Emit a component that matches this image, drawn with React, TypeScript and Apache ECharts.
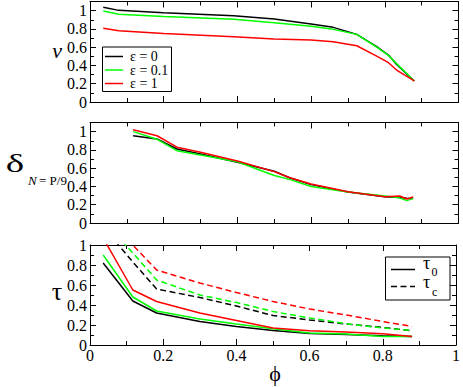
import React, { useEffect, useRef } from 'react';
import * as echarts from 'echarts';

// Panel 1: nu vs phi
const phiV = [0.036, 0.078, 0.2, 0.39, 0.5, 0.6, 0.66, 0.724, 0.778, 0.81, 0.832, 0.88];
const vEps0 = [1.036, 1.003, 0.977, 0.944, 0.908, 0.853, 0.817, 0.74, 0.605, 0.514, 0.41, 0.23];
const vEps01 = [0.995, 0.96, 0.937, 0.905, 0.868, 0.83, 0.795, 0.74, 0.6, 0.51, 0.42, 0.23];
const vEps1 = [0.806, 0.78, 0.75, 0.714, 0.69, 0.678, 0.66, 0.616, 0.503, 0.43, 0.35, 0.23];

// Panel 2: delta_{N=P/9} vs phi
const phiD = [0.117, 0.182, 0.236, 0.3, 0.4, 0.5, 0.543, 0.6, 0.7, 0.8, 0.84, 0.86, 0.877];
const dEps0 = [0.955, 0.92, 0.81, 0.755, 0.664, 0.566, 0.493, 0.42, 0.34, 0.288, 0.28, 0.272, 0.267];
const dEps01 = [1.0, 0.916, 0.792, 0.745, 0.67, 0.52, 0.475, 0.4, 0.34, 0.295, 0.275, 0.245, 0.27];
const dEps1 = [1.02, 0.955, 0.83, 0.775, 0.678, 0.562, 0.496, 0.427, 0.343, 0.288, 0.295, 0.263, 0.284];

// Panel 3: tau vs phi
const phiT = [0.036, 0.117, 0.182, 0.3, 0.4, 0.5, 0.6, 0.7, 0.8, 0.88];
const tau0Eps0 = [0.82, 0.44, 0.32, 0.235, 0.186, 0.146, 0.116, 0.106, 0.093, 0.086];
const tau0Eps01 = [0.9, 0.48, 0.34, 0.26, 0.21, 0.163, 0.12, 0.11, 0.086, 0.086];
const tau0Eps1 = [1.07, 0.55, 0.435, 0.32, 0.245, 0.17, 0.143, 0.13, 0.113, 0.086];
const tauCEps0 = [1.18, 0.83, 0.56, 0.475, 0.39, 0.295, 0.25, 0.21, 0.175, 0.143];
const tauCEps01 = [1.25, 0.92, 0.65, 0.5, 0.425, 0.335, 0.27, 0.212, 0.17, 0.145];
const tauCEps1 = [1.35, 1.0, 0.75, 0.62, 0.525, 0.435, 0.36, 0.3, 0.235, 0.185];

const legendLabels = ['ε = 0', 'ε = 0.1', 'ε = 1'];
const colors = ['#000000', '#00ff00', '#ff0000'];

const SERIF = 'Liberation Serif';

function pairs(xs: number[], ys: number[]) {
  return xs.map((x, i) => [x, ys[i]]);
}

export default function App() {
  const ref = useRef<HTMLDivElement>(null);
  useEffect(() => {
    if (!ref.current) return;
    const chart = echarts.init(ref.current, null, { renderer: 'svg' });

    const grids = [
      { left: 90, top: 1.5, width: 368.5, height: 100.5 },
      { left: 90, top: 122.5, width: 368.5, height: 100.5 },
      { left: 90, top: 245, width: 368.5, height: 100 },
    ];
    const yMax = [1.1, 1.1, 1.0];

    const tickLine = { color: '#000', width: 1 };
    const xAxes: any[] = [];
    const yAxes: any[] = [];
    grids.forEach((_, i) => {
      const base = {
        gridIndex: i,
        type: 'value',
        min: 0,
        max: 1,
        interval: 0.2,
        splitLine: { show: false },
        axisLine: { show: true, onZero: false, lineStyle: { color: '#000', width: 1 } },
        axisTick: { show: true, inside: true, length: 6, lineStyle: tickLine },
        minorTick: { show: true, splitNumber: 2, length: 4, lineStyle: tickLine },
      };
      xAxes.push({
        ...base,
        position: 'bottom',
        axisLabel: {
          show: i === 2,
          color: '#000',
          fontFamily: SERIF,
          fontSize: 16,
          margin: 2,
        },
      });
      xAxes.push({ ...base, position: 'top', axisLabel: { show: false } });
      const ybase = { ...base, max: yMax[i] };
      yAxes.push({
        ...ybase,
        position: 'left',
        axisLabel: {
          show: true,
          color: '#000',
          fontFamily: SERIF,
          fontSize: 16,
          margin: 3,
          showMaxLabel: i === 2,
        },
      });
      yAxes.push({ ...ybase, position: 'right', axisLabel: { show: false } });
    });

    const mk = (g: number, data: number[][], color: string, dashed = false) => ({
      type: 'line',
      xAxisIndex: g * 2,
      yAxisIndex: g * 2,
      data,
      showSymbol: false,
      symbol: 'none',
      clip: true,
      lineStyle: { color, width: 1.5, type: dashed ? [6, 3.5] : 'solid' },
      silent: true,
    });

    const series = [
      mk(0, pairs(phiV, vEps0), colors[0]),
      mk(0, pairs(phiV, vEps01), colors[1]),
      mk(0, pairs(phiV, vEps1), colors[2]),
      mk(1, pairs(phiD, dEps0), colors[0]),
      mk(1, pairs(phiD, dEps01), colors[1]),
      mk(1, pairs(phiD, dEps1), colors[2]),
      mk(2, pairs(phiT, tau0Eps0), colors[0]),
      mk(2, pairs(phiT, tau0Eps01), colors[1]),
      mk(2, pairs(phiT, tau0Eps1), colors[2]),
      mk(2, pairs(phiT, tauCEps0), colors[0], true),
      mk(2, pairs(phiT, tauCEps01), colors[1], true),
      mk(2, pairs(phiT, tauCEps1), colors[2], true),
    ];

    const txt = (x: number, y: number, text: string, size: number, italic = false, align = 'left', extra: any = {}) => ({
      type: 'text',
      x,
      y,
      z: 11,
      ...extra,
      style: {
        text,
        fontFamily: SERIF,
        fontSize: size,
        fontStyle: italic ? 'italic' : 'normal',
        fill: '#000',
        align,
        verticalAlign: 'middle',
      },
    });

    const legendRows = [56.5, 70, 83.5];
    const graphic: any[] = [
      // axis titles
      txt(57, 50, 'ν', 22, true, 'center'),
      txt(15, 163, 'δ', 26, false, 'center', { scaleX: 1.5 }),
      txt(28, 180, 'N', 13, true),
      txt(39, 180, '= P/9', 13),
      txt(57, 291, 'τ', 26, false, 'center'),
      txt(275, 373, 'ϕ', 22, false, 'center'),
      // legend 1
      { type: 'rect', shape: { x: 102.5, y: 47, width: 69, height: 44.5 }, style: { fill: '#fff', stroke: '#000', lineWidth: 1 }, z: 10 },
      // legend 2
      { type: 'rect', shape: { x: 385.5, y: 257, width: 64.5, height: 43 }, style: { fill: '#fff', stroke: '#000', lineWidth: 1 }, z: 10 },
      { type: 'line', shape: { x1: 391, y1: 269.5, x2: 415, y2: 269.5 }, style: { stroke: '#000', lineWidth: 1.5 }, z: 11 },
      { type: 'line', shape: { x1: 391, y1: 286.5, x2: 415, y2: 286.5 }, style: { stroke: '#000', lineWidth: 1.5, lineDash: [6, 3.5] }, z: 11 },
      txt(423, 263, 'τ', 18),
      txt(431.5, 272, '0', 12),
      txt(423, 282, 'τ', 18),
      txt(432, 292, 'c', 12),
    ];
    legendRows.forEach((yy, i) => {
      graphic.push({ type: 'line', shape: { x1: 105, y1: yy, x2: 123, y2: yy }, style: { stroke: colors[i], lineWidth: 1.5 }, z: 11 });
      graphic.push(txt(130, yy, legendLabels[i], 14));
    });

    chart.setOption({
      animation: false,
      backgroundColor: '#ffffff',
      grid: grids.map((g) => ({ ...g, containLabel: false })),
      xAxis: xAxes,
      yAxis: yAxes,
      series,
      graphic,
    });
    return () => chart.dispose();
  }, []);
  return (
    <div
      ref={ref}
      style={{ position: 'absolute', left: 0, top: 0, width: 463, height: 387 }}
    />
  );
}
